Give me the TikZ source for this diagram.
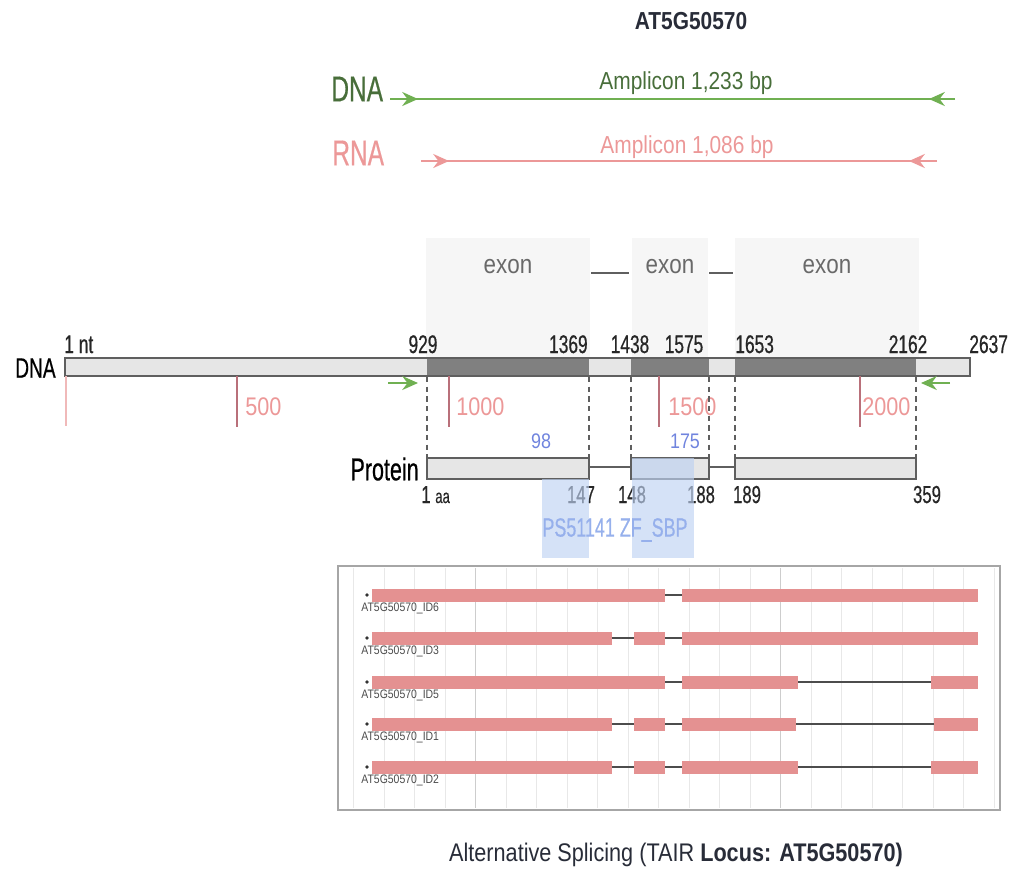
\documentclass[tikz,border=0pt]{standalone}
\usepackage{fontspec}
\setmainfont[FakeStretch=0.85]{Liberation Sans}
\newfontfamily\condensed[FakeStretch=0.68,FakeBold=0.5]{Liberation Sans}
\usetikzlibrary{arrows.meta}
\definecolor{titleink}{RGB}{40,44,56}
\definecolor{dnaink}{RGB}{72,110,58}
\definecolor{dnagreen}{RGB}{112,176,82}
\definecolor{rnapink}{RGB}{236,152,152}
\definecolor{exonbg}{RGB}{246,246,246}
\definecolor{exonink}{RGB}{105,105,105}
\definecolor{barfill}{RGB}{230,230,230}
\definecolor{bardark}{RGB}{128,128,128}
\definecolor{barline}{RGB}{95,95,95}
\definecolor{tickpink}{RGB}{240,185,185}
\definecolor{tickdark}{RGB}{185,112,122}
\definecolor{numblue}{RGB}{112,132,222}
\definecolor{psblue}{RGB}{190,210,242}
\definecolor{pstext}{RGB}{150,176,236}
\definecolor{txpink}{RGB}{228,145,145}
\definecolor{gridminor}{RGB}{232,232,232}
\definecolor{gridmajor}{RGB}{205,205,205}

\begin{document}
\begin{tikzpicture}[x=0.02cm,y=-0.02cm,
    txt/.style={inner sep=0pt,font=\fontsize{13}{15}\selectfont},
    num/.style={inner sep=0pt,font=\condensed\fontsize{14.5}{16}\selectfont,text=black!85},
    aanum/.style={inner sep=0pt,font=\condensed\fontsize{14}{16}\selectfont,text=black!85,anchor=base},
    ttl/.style={txt,font=\bfseries\fontsize{14}{16}\selectfont,text=titleink},
    big/.style={txt,font=\condensed\fontsize{20.5}{22}\selectfont},
    amp/.style={txt,font=\fontsize{14}{16}\selectfont},
    exlab/.style={txt,font=\fontsize{15}{17}\selectfont,text=exonink},
    ticklab/.style={txt,font=\fontsize{14.5}{16}\selectfont,text=rnapink,anchor=base west},
    bluenum/.style={txt,font=\fontsize{12}{14}\selectfont,text=numblue},
    txlab/.style={txt,font=\fontsize{7}{8}\selectfont,text=black!70,anchor=north west},
    ampline/.style={line width=1.3pt,draw=#1},
    primer/.style={line width=1.3pt,draw=#1,-{Stealth[length=9pt,width=8pt,inset=3pt]}},
    bar/.style={draw=barline,line width=1.2pt},
    cut/.style={draw=barline,line width=0.9pt,dash pattern=on 3pt off 2.5pt},
    intron/.style={draw=black!70,line width=1.1pt}
  ]
  \useasboundingbox (0,0) rectangle (1020,870);

  % title and amplicons
  \node[ttl] (title) at (691,21) {AT5G50570};
  \node[big,text=dnaink,anchor=west] (dnalab) at (331,89) {DNA};
  \node[big,text=rnapink,anchor=west] (rnalab) at (332,153) {RNA};
  \coordinate (dnaL) at (390,99);
  \coordinate (dnaR) at (955,99);
  \coordinate (rnaL) at (421,161);
  \coordinate (rnaR) at (937,161);
  \draw[ampline=dnagreen] (dnaL) -- (dnaR);
  \draw[primer=dnagreen] (dnaL) -- ++(28,0);
  \draw[primer=dnagreen] (dnaR) -- ++(-26,0);
  \draw[ampline=rnapink] (rnaL) -- (rnaR);
  \draw[primer=rnapink] (rnaL) -- ++(28,0);
  \draw[primer=rnapink] (rnaR) -- ++(-28,0);
  \node[amp,text=dnaink] (ampdna) at (686,83) {Amplicon 1,233 bp};
  \node[amp,text=rnapink] (amprna) at (687,147) {Amplicon 1,086 bp};

  % exon panels
  \foreach \a/\b/\n in {426/590/1,632/708/2,735/919/3}{
    \fill[exonbg] (\a,238) rectangle (\b,357);
    \node[exlab] (ex\n) at ({(\a+\b)/2},267) {exon};
  }
  \draw[barline,line width=1.2pt] (591,273) -- (629,273);
  \draw[barline,line width=1.2pt] (709,273) -- (733,273);

  % gene bar
  \fill[barfill] (65,358) rectangle (970,376);
  \foreach \a/\b in {427/589,631/709,735/916}
    \fill[bardark] (\a,358) rectangle (\b,376);
  \draw[bar] (65,358) rectangle (970,376);
  \node[big,font=\condensed\fontsize{16}{18}\selectfont,anchor=east] (dnabar) at (56,368) {DNA};
  \node[num,anchor=base west] (p1) at (64,353) {1 nt};
  \node[num,anchor=base] (p929) at (423,353) {929};
  \node[num,anchor=base east] (p1369) at (588,353) {1369};
  \node[num,anchor=base] (p1438) at (630,353) {1438};
  \node[num,anchor=base] (p1575) at (684,353) {1575};
  \node[num,anchor=base west] (p1653) at (735,353) {1653};
  \node[num,anchor=base] (p2162) at (908,353) {2162};
  \node[num,anchor=base west] (p2637) at (969,353) {2637};

  % scale ticks
  \draw[tickpink,line width=1pt] (66,376) -- (66,426);
  \foreach \x/\t/\d in {237/500/8,449/1000/7,659/1500/9,860/2000/2}{
    \draw[tickdark,line width=1.1pt] (\x,376) -- (\x,427);
    \node[ticklab] (t\t) at (\x+\d,415) {\t};
  }
  \draw[primer=dnagreen,line width=1pt] (388,383) -- (418,383);
  \draw[primer=dnagreen,line width=1pt] (950,383) -- (921,383);

  % exon borders down to protein
  \foreach \x in {427,589,631,709,735,916}
    \draw[cut] (\x,377) -- (\x,458);

  % protein
  \node[big,font=\condensed\fontsize{18}{20}\selectfont,anchor=east] (prot) at (419,469) {Protein};
  \draw[bar] (589,467) -- (631,467);
  \draw[bar] (709,467) -- (735,467);
  \foreach \a/\b in {427/589,631/709,735/916}
    \draw[bar,fill=barfill] (\a,458) rectangle (\b,479);
  \node[bluenum] (n98) at (541,441) {98};
  \node[bluenum] (n175) at (685,441) {175};
  \node[aanum,anchor=base west] (a1) at (421,503) {1 {\fontsize{11}{12}\selectfont aa}};
  \node[aanum] (a147) at (581,503) {147};
  \node[aanum] (a148) at (632,503) {148};
  \node[aanum] (a188) at (701,503) {188};
  \node[aanum] (a189) at (747,503) {189};
  \node[aanum] (a359) at (927,503) {359};
  \fill[psblue,opacity=0.65] (542,479) rectangle (589,558);
  \fill[psblue,opacity=0.65] (632,458) rectangle (694,558);
  \node[txt,font=\condensed\fontsize{15}{17}\selectfont,text=pstext] (domain) at (615,530) {PS51141 ZF\_SBP};

  % alternative splicing panel
  \foreach \k in {-4,...,17}
    \draw[gridminor,line width=0.6pt] ({475.6+30.5*\k},568) -- ({475.6+30.5*\k},808);
  \draw[gridmajor,line width=0.8pt] (475.6,568) -- (475.6,808);
  \draw[gridmajor,line width=0.8pt] (780.6,568) -- (780.6,808);
  \draw[black!35,line width=1pt] (338,566) rectangle (1000,810);
  \foreach \y/\id/\ex in {595/ID6/{372/665,682/978},
                          638/ID3/{372/612,634/665,682/978},
                          682/ID5/{372/665,682/798,931/978},
                          724/ID1/{372/612,634/665,682/796,934/978},
                          767/ID2/{372/612,634/665,682/798,931/978}}{
    \draw[intron] (372,\y) -- (978,\y);
    \foreach \a/\b in \ex
      \fill[txpink] (\a,\y-6.5) rectangle (\b,\y+6.5);
    \fill[black!80] (367,\y) circle (1.1pt);
    \node[txlab] (tx\id) at (361,\y+8) {AT5G50570\_\id};
  }
  \node[amp,font=\fontsize{14.5}{16}\selectfont,text=titleink] (caption) at (676,855)
    {Alternative Splicing (TAIR \textbf{Locus: AT5G50570)}};
\end{tikzpicture}
\end{document}
